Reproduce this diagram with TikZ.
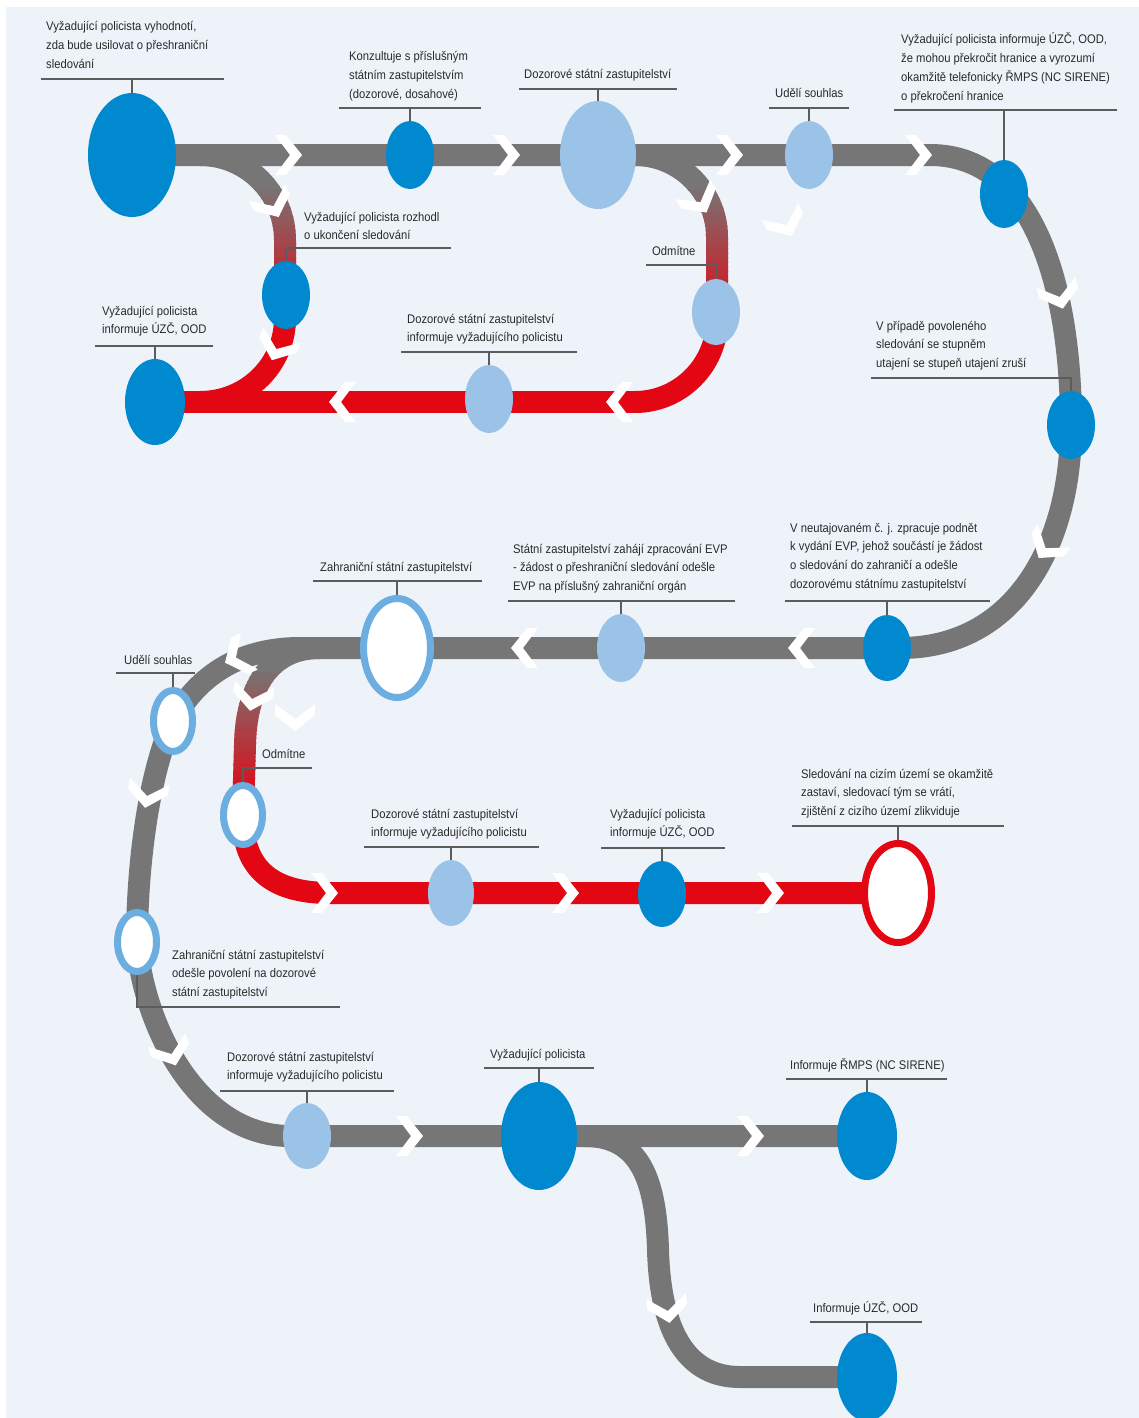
\documentclass[tikz,border=0pt]{standalone}
\usepackage{fontspec}
\setmainfont{Liberation Sans}[FakeStretch=0.9]
\usetikzlibrary{shapes.geometric}
\definecolor{bgc}{HTML}{EEF3FA}
\definecolor{tgray}{HTML}{767676}
\definecolor{tred}{HTML}{E30613}
\definecolor{dblue}{HTML}{0089CF}
\definecolor{lblue}{HTML}{9BC3E7}
\definecolor{rblue}{HTML}{6CAEE0}
\definecolor{ttext}{HTML}{2A2A2A}
\definecolor{rulec}{HTML}{5C5C5C}
\pgfdeclarelayer{bglayer}
\pgfdeclarelayer{trklayer}
\pgfdeclarelayer{chvlayer}
\pgfdeclarelayer{rullayer}
\pgfsetlayers{bglayer,trklayer,chvlayer,rullayer,main}
\newcommand\mlines[1]{\vtop{\halign{##\hfil\cr#1\crcr}}}
\newcommand\gradpath[3]{%
 \begin{scope}\clip (0,0) rectangle (1139,#2+0.4); \draw[trk,color=tgray] #1; \end{scope}%
 \foreach \gi in {0,...,29}{%
  \pgfmathsetmacro\gya{#2+\gi*(#3-#2)/30}%
  \pgfmathsetmacro\gyb{\gya+(#3-#2)/30+0.5}%
  \pgfmathtruncatemacro\gp{(\gi+0.5)*100/30}%
  \begin{scope}\clip (0,\gya) rectangle (1139,\gyb); \draw[trk,color=tred!\gp!tgray] #1; \end{scope}%
 }%
 \begin{scope}\clip (0,#3) rectangle (1139,1418); \draw[trk,color=tred] #1; \end{scope}%
}
\newcommand\callout[5]{%
 \coordinate (#1a) at (#3,#5); \coordinate (#1b) at (#4,#5);
 \draw[rl] (#1a) -- (#1b);
 \draw[rl] (#2.north |- #1a) -- (#2.north);}
\tikzset{
 trk/.style={line width=22pt, line cap=butt, line join=round},
 dnode/.style={ellipse, fill=dblue, inner sep=0pt, outer sep=0pt},
 lnode/.style={ellipse, fill=lblue, inner sep=0pt, outer sep=0pt},
 wnode/.style={ellipse, fill=white, draw=rblue, line width=7pt, inner sep=0pt},
 rnode/.style={wnode, draw=tred},
 lbl/.style={anchor=base west, inner sep=0pt, font=\fontsize{12.5}{18.9}\selectfont, text=ttext},
 rl/.style={draw=rulec, line width=1.5pt},
 chev/.pic={\fill[white] (-5,-20) -- (11,0) -- (-5,20) -- (-16,20) -- (-1,0) -- (-16,-20) -- cycle;}
}
\begin{document}
\begin{tikzpicture}[x=1pt,y=-1pt]
\useasboundingbox (0,0) rectangle (1139,1418);
\begin{pgfonlayer}{bglayer}
 \fill[white] (0,0) rectangle (1139,1418);
 \fill[bgc] (6,7) rectangle (1139,1418);
\end{pgfonlayer}

% ---------- nodes ----------
\node[dnode, minimum width=88pt, minimum height=124pt] (n1) at (132,155) {};
\node[dnode, minimum width=48pt, minimum height=68pt] (n2) at (410,155) {};
\node[lnode, minimum width=76pt, minimum height=108pt] (n3) at (598,155) {};
\node[lnode, minimum width=48pt, minimum height=68pt] (n4) at (809,155) {};
\node[dnode, minimum width=48pt, minimum height=68pt] (n5) at (1004,194) {};
\node[dnode, minimum width=48pt, minimum height=68pt] (n6) at (286,295) {};
\node[dnode, minimum width=60pt, minimum height=86pt] (n7) at (155,402) {};
\node[lnode, minimum width=48pt, minimum height=66pt] (n8) at (716,312) {};
\node[lnode, minimum width=48pt, minimum height=68pt] (n9) at (489,399) {};
\node[dnode, minimum width=48pt, minimum height=68pt] (n10) at (1071,425) {};
\node[dnode, minimum width=48pt, minimum height=66pt] (n11) at (887,648) {};
\node[lnode, minimum width=48pt, minimum height=68pt] (n12) at (621,648) {};
\node[wnode, minimum width=67pt, minimum height=99pt] (n13) at (397,648) {};
\node[wnode, minimum width=39pt, minimum height=61pt] (n14) at (173,721) {};
\node[wnode, minimum width=39pt, minimum height=59pt] (n15) at (243,815) {};
\node[wnode, minimum width=39pt, minimum height=59pt] (n16) at (137,942) {};
\node[lnode, minimum width=46pt, minimum height=66pt] (n17) at (451,893) {};
\node[dnode, minimum width=48pt, minimum height=66pt] (n18) at (662,894) {};
\node[rnode, minimum width=67pt, minimum height=99pt] (n19) at (898,893) {};
\node[lnode, minimum width=48pt, minimum height=66pt] (n20) at (307,1136) {};
\node[dnode, minimum width=76pt, minimum height=108pt] (n21) at (539,1136) {};
\node[dnode, minimum width=60pt, minimum height=88pt] (n22) at (867,1136) {};
\node[dnode, minimum width=60pt, minimum height=88pt] (n23) at (867,1377) {};

% ---------- tracks ----------
\begin{pgfonlayer}{trklayer}
 \draw[trk,tgray] (n1.center) -- (930,155) .. controls (1035,155) and (1071,290) .. (1071,425)
   .. controls (1071,545) and (1015,648) .. (900,648) -- (300,648)
   .. controls (235,648) and (195,680) .. (173,721)
   .. controls (150,770) and (137,860) .. (137,942)
   .. controls (142,1020) and (195,1136) .. (290,1136) -- (n22.center);
 \draw[trk,tgray] (585,1136) .. controls (640,1136) and (656,1180) .. (658,1250)
   .. controls (660,1320) and (680,1377) .. (740,1377) -- (n23.center);
 \draw[trk,tred] (n7.center) -- (640,402);
 \gradpath{(200,155) .. controls (247,155) and (285,193) .. (285,240) -- (285,318) .. controls (285,365) and (247,402) .. (200,402)}{185}{320}
 \gradpath{(635,155) .. controls (680,155) and (717,192) .. (717,237) -- (717,320) .. controls (717,365) and (680,402) .. (635,402)}{185}{320}
 \gradpath{(320,648) .. controls (268,648) and (246,690) .. (245,745) -- (243,815) .. controls (242,865) and (268,893) .. (330,893) -- (n19.center)}{668}{800}
\end{pgfonlayer}

% ---------- chevrons ----------
\begin{pgfonlayer}{chvlayer}
 \pic at (291,155) {chev};
 \pic at (509,155) {chev};
 \pic at (732,155) {chev};
 \pic at (921,155) {chev};
 \pic[rotate=-65] at (274,207) {chev};
 \pic[rotate=-112] at (276,350) {chev};
 \pic[rotate=180] at (340,402) {chev};
 \pic[rotate=180] at (617,402) {chev};
 \pic[rotate=-60] at (701,203) {chev};
 \pic[rotate=-65] at (787,226) {chev};
 \pic[rotate=-75] at (1060,298) {chev};
 \pic[rotate=-125] at (1045,549) {chev};
 \pic[rotate=180] at (799,648) {chev};
 \pic[rotate=180] at (522,648) {chev};
 \pic[rotate=-155] at (235,658) {chev};
 \pic[rotate=-100] at (252,700) {chev};
 \pic[rotate=-90] at (295,720) {chev};
 \pic[rotate=-100] at (147,797) {chev};
 \pic at (327,893) {chev};
 \pic at (568,893) {chev};
 \pic at (773,893) {chev};
 \pic[rotate=-70] at (172,1055) {chev};
 \pic at (412,1136) {chev};
 \pic at (753,1136) {chev};
 \pic[rotate=-82] at (668,1312) {chev};
\end{pgfonlayer}

% ---------- callout rules ----------
\begin{pgfonlayer}{rullayer}
 \callout{r1}{n1}{41}{224}{79}
 \callout{r2}{n2}{339}{481}{108}
 \callout{r3}{n3}{519}{677}{89}
 \callout{r4}{n4}{769}{849}{108}
 \callout{r5}{n5}{894}{1117}{110}
 \coordinate (r6) at (451,248); \draw[rl] (r6) -- (n6.north |- r6) -- (n6.north);
 \callout{r7}{n7}{95}{213}{346}
 \callout{r8}{n9}{401}{577}{352}
 \coordinate (r9) at (646,265); \draw[rl] (r9) -- (n8.north |- r9) -- (n8.north);
 \coordinate (r10) at (871,378); \draw[rl] (r10) -- (n10.north |- r10) -- (n10.north);
 \callout{r11}{n11}{785}{990}{601}
 \callout{r12}{n12}{508}{735}{601}
 \callout{r13}{n13}{313}{482}{581}
 \callout{r14}{n14}{116}{195}{673}
 \coordinate (r15) at (312,768); \draw[rl] (r15) -- (n15.north |- r15) -- (n15.north);
 \callout{r16}{n17}{364}{539}{847}
 \callout{r17}{n18}{601}{725}{848}
 \callout{r18}{n19}{792}{1004}{826}
 \coordinate (r19) at (340,1007); \draw[rl] (r19) -- (n16.south |- r19) -- (n16.south);
 \callout{r20}{n20}{220}{394}{1091}
 \callout{r21}{n21}{484}{594}{1068}
 \callout{r22}{n22}{786}{947}{1079}
 \callout{r23}{n23}{810}{922}{1322}
\end{pgfonlayer}

% ---------- labels ----------
\node[lbl] (t1) at (46,31) {\mlines{Vyžadující policista vyhodnotí,\cr zda bude usilovat o přeshraniční\cr sledování}};
\node[lbl] (t2) at (349,61) {\mlines{Konzultuje s příslušným\cr státním zastupitelstvím\cr (dozorové, dosahové)}};
\node[lbl] (t3) at (524,79) {Dozorové státní zastupitelství};
\node[lbl] (t4) at (775,98) {Udělí souhlas};
\node[lbl] (t5) at (901,44) {\mlines{Vyžadující policista informuje ÚZČ, OOD,\cr že mohou překročit hranice a vyrozumí\cr okamžitě telefonicky ŘMPS (NC SIRENE)\cr o překročení hranice}};
\node[lbl] (t6) at (304,221) {\mlines{Vyžadující policista rozhodl\cr o ukončení sledování}};
\node[lbl] (t7) at (102,315) {\mlines{Vyžadující policista\cr informuje ÚZČ, OOD}};
\node[lbl] (t8) at (407,323) {\mlines{Dozorové státní zastupitelství\cr informuje vyžadujícího policistu}};
\node[lbl] (t9) at (652,255) {Odmítne};
\node[lbl] (t10) at (876,330) {\mlines{V případě povoleného\cr sledování se stupněm\cr utajení se stupeň utajení zruší}};
\node[lbl] (t11) at (790,532) {\mlines{V neutajovaném č. j. zpracuje podnět\cr k vydání EVP, jehož součástí je žádost\cr o sledování do zahraničí a odešle\cr dozorovému státnímu zastupitelství}};
\node[lbl] (t12) at (513,553) {\mlines{Státní zastupitelství zahájí zpracování EVP\cr - žádost o přeshraniční sledování odešle\cr EVP na příslušný zahraniční orgán}};
\node[lbl] (t13) at (320,571) {Zahraniční státní zastupitelství};
\node[lbl] (t14) at (124,664) {Udělí souhlas};
\node[lbl] (t15) at (262,758) {Odmítne};
\node[lbl] (t16) at (371,818) {\mlines{Dozorové státní zastupitelství\cr informuje vyžadujícího policistu}};
\node[lbl] (t17) at (610,818) {\mlines{Vyžadující policista\cr informuje ÚZČ, OOD}};
\node[lbl] (t18) at (801,778) {\mlines{Sledování na cizím území se okamžitě\cr zastaví, sledovací tým se vrátí,\cr zjištění z cizího území zlikviduje}};
\node[lbl] (t19) at (172,959) {\mlines{Zahraniční státní zastupitelství\cr odešle povolení na dozorové\cr státní zastupitelství}};
\node[lbl] (t20) at (227,1061) {\mlines{Dozorové státní zastupitelství\cr informuje vyžadujícího policistu}};
\node[lbl] (t21) at (490,1058.5) {Vyžadující policista};
\node[lbl] (t22) at (790,1069) {Informuje ŘMPS (NC SIRENE)};
\node[lbl] (t23) at (813,1312) {Informuje ÚZČ, OOD};
\end{tikzpicture}
\end{document}
